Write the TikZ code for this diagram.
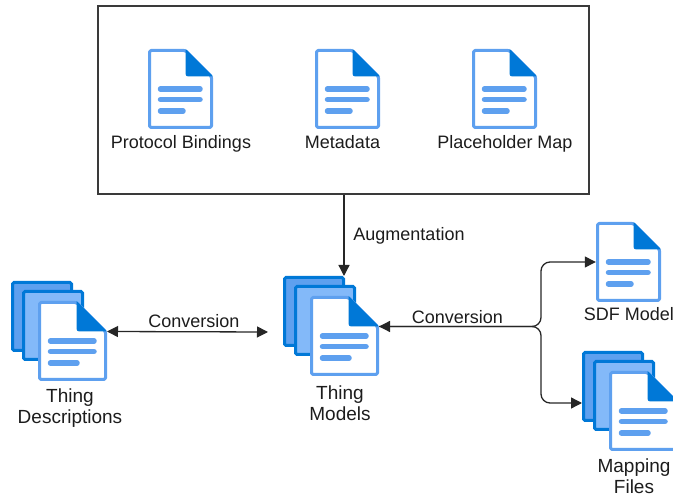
\documentclass[tikz,border=0pt]{standalone}
\usepackage{fontspec}
\setmainfont{Liberation Sans}
\usetikzlibrary{arrows.meta}

\definecolor{docdark}{HTML}{0078D7}
\definecolor{docmid}{HTML}{5EA0EF}
\definecolor{doclight}{HTML}{83B9F9}
\definecolor{boxgray}{HTML}{3A3A3A}
\definecolor{txtgray}{HTML}{1C1C1C}

% one page: #1 = width, #2 = fold size
\newcommand{\docpage}[2]{
	\draw[line width=3pt, color=docmid, fill=white, rounded corners=1.5pt, line join=round] (0,0) -- ({#1-#2},0) -- (#1,#2) -- (#1,77) -- (0,77) -- cycle;
	\fill[docdark] ({#1-#2},-1.5) -- (#1+1.5,#2) -- ({#1-#2+6},#2) .. controls ({#1-#2},#2) .. ({#1-#2},#2-6) -- cycle;
	\draw[docline] (8.5,38.5) -- ({#1-9},38.5);
	\draw[docline] (8.5,49) -- ({#1-9},49);
	\draw[docline] (8.5,60.5) -- ({#1-26},60.5);
}

\tikzset{
	docline/.style={line width=5.5pt, color=docmid, line cap=round, shorten <=2.5pt, shorten >=2.5pt},
	sheet/.style={line width=3pt, color=docdark, rounded corners=1.5pt},
	label/.style={font=\fontsize{19}{21}\selectfont, text=txtgray, inner sep=0pt, align=center},
	oneline/.style={label, font=\fontsize{18}{21}\selectfont, anchor=base},
	link/.style={line width=1.3pt, color=black!85, >={Triangle[length=11pt,width=11pt]}},
	anchorbox/.style={inner sep=0pt, minimum width=#1, minimum height=80pt},
	doc/.pic={
		\docpage{62}{26}
		\node[anchorbox=65pt] (-page) at (31,38.5) {};
	},
	docstack/.pic={
		\draw[sheet, fill=docmid] (0,0) rectangle (59,68);
		\draw[sheet, fill=doclight] (11,9) rectangle (70,77);
		\begin{scope}[shift={(27,20)}]
			\docpage{66}{29}
			\node[anchorbox=69pt] (-page) at (33,38.5) {};
			\coordinate (-port) at (67.5,29);
		\end{scope}
	}
}

\begin{document}
\begin{tikzpicture}[x=1pt, y=-1pt]
	\useasboundingbox (0,0) rectangle (673,497);

	% upper group
	\node[draw=boxgray, line width=2pt, inner sep=0pt, minimum width=491pt, minimum height=188pt] (inputs) at (343,100.5) {};
	\pic (bindings) at (149.5,50.5) {doc};
	\pic (metadata) at (316.5,50.5) {doc};
	\pic (placeholders) at (473.5,50.5) {doc};
	\node[oneline] (bindingstxt) at (181,148.3) {Protocol Bindings};
	\node[oneline] (metadatatxt) at (342.5,148.3) {Metadata};
	\node[oneline] (placeholderstxt) at (505,148.3) {Placeholder Map};

	% stacks and the single model
	\pic (descriptions) at (12.5,282.5) {docstack};
	\pic (models) at (284.5,277.5) {docstack};
	\pic (sdf) at (597.5,223.5) {doc};
	\pic (mappings) at (583.5,352.5) {docstack};
	\node[label] (descriptionstxt) at (70,408) {Thing\\Descriptions};
	\node[label] (modelstxt) at (340,403) {Thing\\Models};
	\node[oneline] (sdftxt) at (629,321) {SDF Model};
	\node[label] (mappingstxt) at (634,476.5) {Mapping\\Files};

	% connectors
	\coordinate (split) at (541,326.5);
	\coordinate (modelstop) at (344,276);
	\coordinate (modelsleft) at (268,332);
	\coordinate (mappingsleft) at (582,403);
	\draw[link, ->] (inputs.south -| modelstop) -- (modelstop);
	\draw[link, <->] (descriptions-port) -- (modelsleft);
	\draw[link, <->, rounded corners=9pt] (models-port) -- (split) -- (split |- sdf-page.west) -- (sdf-page.west);
	\draw[link, ->, rounded corners=9pt] (models-port) -- (split) -- (split |- mappingsleft) -- (mappingsleft);
	\node[oneline] (augmentationtxt) at (409,240.7) {Augmentation};
	\node[oneline] (conversiontxt) at (194,327.3) {Conversion};
	\node[oneline] (conversionrighttxt) at (457.5,323.3) {Conversion};
\end{tikzpicture}
\end{document}
